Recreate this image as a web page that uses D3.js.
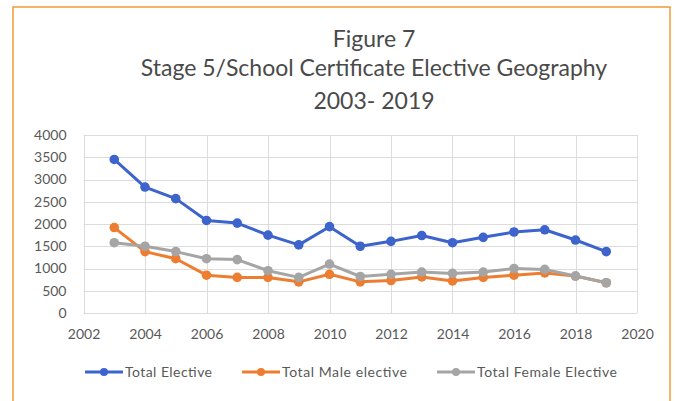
<!DOCTYPE html>
<html>
<head>
<meta charset="utf-8">
<script src="https://cdn.jsdelivr.net/npm/d3@7"></script>
<style>
  body { margin: 0; background: #fff; }
  svg { display: block; font-family: Lato, "Open Sans", sans-serif; }
</style>
</head>
<body>
<svg id="chart" width="675" height="401"></svg>
<script>
'use strict';

const years = [2003, 2004, 2005, 2006, 2007, 2008, 2009, 2010, 2011,
               2012, 2013, 2014, 2015, 2016, 2017, 2018, 2019];
const totalElective = [3450, 2830, 2570, 2080, 2020, 1750, 1530, 1940, 1500,
                       1610, 1740, 1580, 1700, 1820, 1870, 1640, 1380];
const maleElective = [1920, 1380, 1220, 850, 800, 800, 700, 870, 700,
                      730, 810, 720, 800, 850, 900, 830, 680];
const femaleElective = [1580, 1500, 1380, 1220, 1200, 950, 800, 1100, 820,
                        870, 920, 890, 920, 1000, 980, 830, 680];
const seriesNames = ['Total Elective', 'Total Male elective', 'Total Female Elective'];
const xTicks = [2002, 2004, 2006, 2008, 2010, 2012, 2014, 2016, 2018, 2020];
const yTicks = [0, 500, 1000, 1500, 2000, 2500, 3000, 3500, 4000];
const titleLines = ['Figure 7', 'Stage 5/School Certificate Elective Geography', '2003- 2019'];

const colors = ['#3d63cc', '#ed7d31', '#a5a5a5'];
const seriesValues = [totalElective, maleElective, femaleElective];

const svg = d3.select('#chart');

// orange frame, runs off the bottom of the picture
svg.append('rect')
  .attr('x', 13).attr('y', 7)
  .attr('width', 657).attr('height', 420)
  .attr('fill', '#fff')
  .attr('stroke', '#f29a3a')
  .attr('stroke-width', 1.5);

const x = d3.scaleLinear().domain([2002, 2020]).range([83.5, 637]);
const y = d3.scaleLinear().domain([0, 4000]).range([313, 135]);

// title
const titleY = [47, 76, 109];
svg.append('g')
  .selectAll('text')
  .data(titleLines)
  .join('text')
  .attr('x', 374)
  .attr('y', (d, i) => titleY[i])
  .attr('text-anchor', 'middle')
  .attr('fill', '#4a4a4a')
  .attr('font-size', 23)
  .text(d => d);

// gridlines
const grid = svg.append('g').attr('stroke', '#dcdcdc').attr('stroke-width', 1);
grid.selectAll('.h')
  .data(yTicks)
  .join('line')
  .attr('x1', x(2002)).attr('x2', x(2020))
  .attr('y1', d => Math.round(y(d)) + 0.5).attr('y2', d => Math.round(y(d)) + 0.5);
grid.selectAll('.v')
  .data(xTicks)
  .join('line')
  .attr('y1', y(0)).attr('y2', y(4000))
  .attr('x1', d => Math.round(x(d)) + 0.5).attr('x2', d => Math.round(x(d)) + 0.5);

// axes
const xAxis = svg.append('g')
  .attr('transform', `translate(0,${y(0)})`)
  .call(d3.axisBottom(x).tickValues(xTicks).tickFormat(d3.format('d')).tickSize(0).tickPadding(16));
const yAxis = svg.append('g')
  .attr('transform', `translate(${x(2002)},0)`)
  .call(d3.axisLeft(y).tickValues(yTicks).tickFormat(d3.format('d')).tickSize(0).tickPadding(17));

[xAxis, yAxis].forEach(a => {
  a.select('.domain').remove();
  a.selectAll('text')
    .attr('fill', '#595959')
    .attr('font-size', 14)
    .attr('font-family', 'Lato, "Open Sans", sans-serif');
});

// series
const line = d3.line()
  .x((d, i) => x(years[i]))
  .y(d => y(d));

seriesValues.forEach((vals, k) => {
  const g = svg.append('g');
  g.append('path')
    .datum(vals)
    .attr('d', line)
    .attr('fill', 'none')
    .attr('stroke', colors[k])
    .attr('stroke-width', 3)
    .attr('stroke-linejoin', 'round');
  g.selectAll('circle')
    .data(vals)
    .join('circle')
    .attr('cx', (d, i) => x(years[i]))
    .attr('cy', d => y(d))
    .attr('r', 4.8)
    .attr('fill', colors[k]);
});

// legend
const legendX = [85, 242, 437];
const legendW = [87, 125, 140];
const legend = svg.append('g')
  .selectAll('g')
  .data(seriesNames)
  .join('g')
  .attr('transform', (d, i) => `translate(${legendX[i]},372)`);
legend.append('line')
  .attr('x1', 0).attr('x2', 38)
  .attr('stroke', (d, i) => colors[i])
  .attr('stroke-width', 3);
legend.append('circle')
  .attr('cx', 19).attr('r', 4)
  .attr('fill', (d, i) => colors[i]);
legend.append('text')
  .attr('x', 40)
  .attr('y', 5)
  .attr('fill', '#595959')
  .attr('font-size', 14)
  .attr('textLength', (d, i) => legendW[i])
  .attr('lengthAdjust', 'spacing')
  .text(d => d);
</script>
</body>
</html>
